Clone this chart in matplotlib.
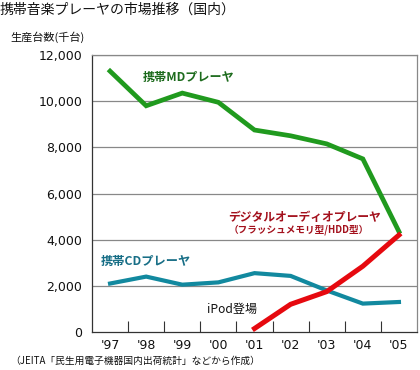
import matplotlib
matplotlib.use("Agg")
import matplotlib.pyplot as plt
import numpy as np

plt.rcParams['font.family'] = ['Noto Sans CJK JP', 'DejaVu Sans']

years = ["'97", "'98", "'99", "'00", "'01", "'02", "'03", "'04", "'05"]
md_players = [11300, 9800, 10350, 9950, 8750, 8500, 8150, 7500, 4350]
cd_players = [2100, 2400, 2050, 2150, 2550, 2430, 1800, 1230, 1300]
digital_players = [np.nan, np.nan, np.nan, np.nan, 150, 1200, 1750, 2850, 4200]
yticks = [0, 2000, 4000, 6000, 8000, 10000, 12000]

fig = plt.figure(figsize=(4.2, 3.7), dpi=100)
ax = fig.add_axes([92/420, 1-332/370, (417-92)/420, (332-55)/370])

x = np.arange(len(years))
ax.plot(x, md_players, color='#209a1e', lw=3.4, solid_joinstyle='miter', zorder=3)
ax.plot(x, cd_players, color='#12899f', lw=3.0, solid_joinstyle='miter', zorder=3)
ax.plot(x, digital_players, color='#e6090f', lw=3.6, solid_joinstyle='miter', zorder=4)

ax.set_xlim(-0.5, len(years) - 0.5)
ax.set_ylim(0, 12000)
ax.set_yticks(yticks)
ax.set_yticklabels([f"{v:,}" for v in yticks], fontsize=9, color='#111111', family='DejaVu Sans')
ax.tick_params(axis='y', length=0, pad=7)
ax.set_xticks(x)
ax.set_xticklabels(years, fontsize=9, color='#111111', family='DejaVu Sans')
ax.tick_params(axis='x', which='major', length=0, pad=5)
ax.set_xticks(np.arange(0.5, len(years) - 1, 1), minor=True)
ax.tick_params(axis='x', which='minor', direction='in', length=8, color='#333333', width=0.8)

for v in yticks[1:]:
    ax.axhline(v, color='#888888', lw=0.9, zorder=1)
for s in ['top', 'right']:
    ax.spines[s].set_color('#888888')
    ax.spines[s].set_linewidth(0.9)
for s in ['left', 'bottom']:
    ax.spines[s].set_color('#333333')
    ax.spines[s].set_linewidth(0.9)

# Annotations
fig.text(143/420, 1-77/370, '携帯MDプレーヤ', fontsize=8.7, fontweight='bold', color='#1d6b1d', va='center', ha='left')
fig.text(228/420, 1-217/370, 'デジタルオーディオプレーヤ', fontsize=8.5, fontweight='bold', color='#a3101c', va='center', ha='left')
fig.text(229/420, 1-230/370, '（フラッシュメモリ型/HDD型）', fontsize=6.9, fontweight='bold', color='#a3101c', va='center', ha='left')
fig.text(101/420, 1-261/370, '携帯CDプレーヤ', fontsize=8.8, fontweight='bold', color='#176e86', va='center', ha='left')
fig.text(207/420, 1-309/370, 'iPod登場', fontsize=8.7, color='#111111', va='center', ha='left')

fig.text(0/420, 1-10/370, '携帯音楽プレーヤの市場推移（国内）', fontsize=10, color='#111111', va='center', ha='left')
fig.text(10/420, 1-37/370, '生産台数(千台)', fontsize=8, color='#111111', va='center', ha='left')
fig.text(10/420, 1-361/370, '（JEITA「民生用電子機器国内出荷統計」などから作成）', fontsize=7, color='#111111', va='center', ha='left')

fig.savefig('out.png', dpi=100)
